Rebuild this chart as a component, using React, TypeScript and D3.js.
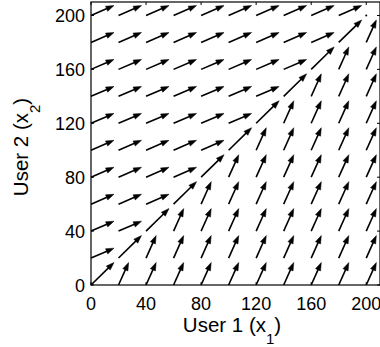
import React from "react";
import * as d3 from "d3";

const gridX = [0, 20, 40, 60, 80, 100, 120, 140, 160, 180, 200];
const gridY = [200, 180, 160, 140, 120, 100, 80, 60, 40, 20, 0];
// Direction code per grid row (top row = y 200)
// A: shallow right, B: steep up, D: diagonal, O: zero vector
const fieldRows = [
  "AAAAAAAAAAO",
  "AAAAAAAAADB",
  "AAAAAAAADBB",
  "AAAAAAADBBB",
  "AAAAAADBBBB",
  "AAAAADBBBBB",
  "AAAADBBBBBB",
  "AAADBBBBBBB",
  "AADBBBBBBBB",
  "ADBBBBBBBBB",
  "DBBBBBBBBBB",
];
const codeVectors: Record<string, [number, number]> = {
  A: [1, 0.44],
  B: [0.44, 1],
  D: [1, 1],
  O: [0, 0],
};
const xTicks = [0, 40, 80, 120, 160, 200];
const yTicks = [0, 40, 80, 120, 160, 200];

const W = 380;
const H = 347;
const L = 91;
const R = 380;
const T = 2;
const B = 285;
const SCALE = 16.7;

export default function App() {
  const x = d3.scaleLinear().domain([0, 210]).range([L, R]);
  const y = d3.scaleLinear().domain([0, 210]).range([B, T]);
  const font = "'Liberation Sans', Arial, Helvetica, sans-serif";

  const arrows: React.ReactNode[] = [];
  fieldRows.forEach((row, j) => {
    row.split("").forEach((code, i) => {
      const [u, v] = codeVectors[code];
      const x0 = x(gridX[i]);
      const y0 = y(gridY[j]);
      const key = `${i}-${j}`;
      if (u === 0 && v === 0) {
        arrows.push(<circle key={key} cx={x0} cy={y0} r={1} fill="#000" />);
        return;
      }
      const x1 = x(gridX[i] + u * SCALE);
      const y1 = y(gridY[j] + v * SCALE);
      const dx = x1 - x0;
      const dy = y1 - y0;
      const len = Math.hypot(dx, dy);
      const ux = dx / len;
      const uy = dy / len;
      const hl = 8;
      const hw = 2.8;
      const bx = x1 - ux * hl;
      const by = y1 - uy * hl;
      const p = `${x1},${y1} ${bx - uy * hw},${by + ux * hw} ${bx + uy * hw},${by - ux * hw}`;
      arrows.push(
        <g key={key}>
          <line x1={x0} y1={y0} x2={bx + ux * 1} y2={by + uy * 1} stroke="#000" strokeWidth={1.6} />
          <polygon points={p} fill="#000" stroke="#000" strokeWidth={0.5} />
        </g>
      );
    });
  });

  const tk = 3;
  return (
    <svg width={W} height={H} style={{ position: "absolute", left: 0, top: 0, background: "#fff" }}>
      <rect x={0} y={0} width={W} height={H} fill="#fff" />
      {arrows}
      <rect x={L} y={T} width={R - L} height={B - T} fill="none" stroke="#000" strokeWidth={1.2} />
      {xTicks.map((t) => (
        <g key={"xt" + t}>
          <line x1={x(t)} x2={x(t)} y1={B} y2={B - tk} stroke="#000" />
          <line x1={x(t)} x2={x(t)} y1={T} y2={T + tk} stroke="#000" />
          <text x={x(t)} y={310} fontSize={18} fontFamily={font} textAnchor="middle">
            {t}
          </text>
        </g>
      ))}
      {yTicks.map((t) => (
        <g key={"yt" + t}>
          <line x1={L} x2={L + tk} y1={y(t)} y2={y(t)} stroke="#000" />
          <line x1={R} x2={R - tk} y1={y(t)} y2={y(t)} stroke="#000" />
          <text x={85} y={y(t) + 6.5} fontSize={18} fontFamily={font} textAnchor="end">
            {t}
          </text>
        </g>
      ))}
      <text x={232} y={332} fontSize={20.5} fontFamily={font} textAnchor="middle">
        User 1 (x
        <tspan fontSize={15} dy={12}>1</tspan>
        <tspan dy={-12}>)</tspan>
      </text>
      <text
        transform={`translate(28,147) rotate(-90)`}
        fontSize={20.5}
        fontFamily={font}
        textAnchor="middle"
      >
        User 2 (x
        <tspan fontSize={15} dy={12}>2</tspan>
        <tspan dy={-12}>)</tspan>
      </text>
    </svg>
  );
}
